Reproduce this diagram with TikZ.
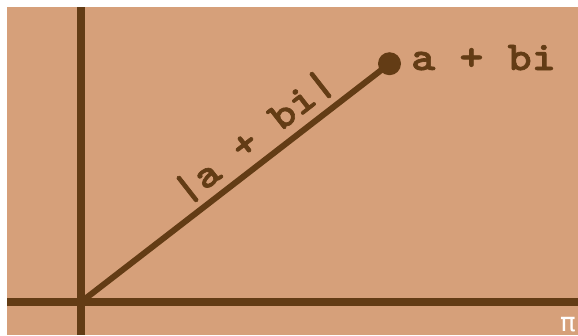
\documentclass[tikz,border=0pt]{standalone}
\usepackage{fontspec}
\newfontfamily\lmmb{lmmonolt10-bold.otf}[FakeStretch=1.12,FakeBold=1.6]
\newfontfamily\pifont{DejaVu Sans}
\definecolor{paper}{RGB}{214,160,122}
\definecolor{ink}{RGB}{99,60,21}
\tikzset{
  axis/.style={draw=ink, line width=7.5pt},
  vec/.style={draw=ink, line width=6pt},
  dotnode/.style={circle, fill=ink, minimum size=23pt, inner sep=0pt},
  lbl/.style={text=ink, inner sep=0pt, font=\lmmb\fontsize{41}{41}\selectfont},
}
\begin{document}
\begin{tikzpicture}[x=1pt,y=-1pt]
\useasboundingbox (0,0) rectangle (578,335);
\fill[white] (0,0) rectangle (578,335);
\fill[paper] (7,7) rectangle (578,335);
\begin{scope}
\clip (7,7) rectangle (578,335);
\coordinate (O) at (81,302);
\coordinate (ytop) at (81,7);
\coordinate (ybot) at (81,335);
\coordinate (xl) at (7,302);
\coordinate (xr) at (578,302);
\draw[axis] (ytop) -- (ybot);
\draw[axis] (xl) -- (xr);
\node[dotnode] (P) at (389.5,63.7) {};
\draw[vec] (O) -- (P.center);
\node[lbl, anchor=base west] (z) at (411,70) {a + bi};
\node[lbl, rotate=38] (mod) at (254,137) {|a + bi|};
\node[text=white, inner sep=0pt, font=\pifont\fontsize{26}{26}\selectfont, anchor=north west] (pi) at (560,317) {π};
\end{scope}
\end{tikzpicture}
\end{document}
